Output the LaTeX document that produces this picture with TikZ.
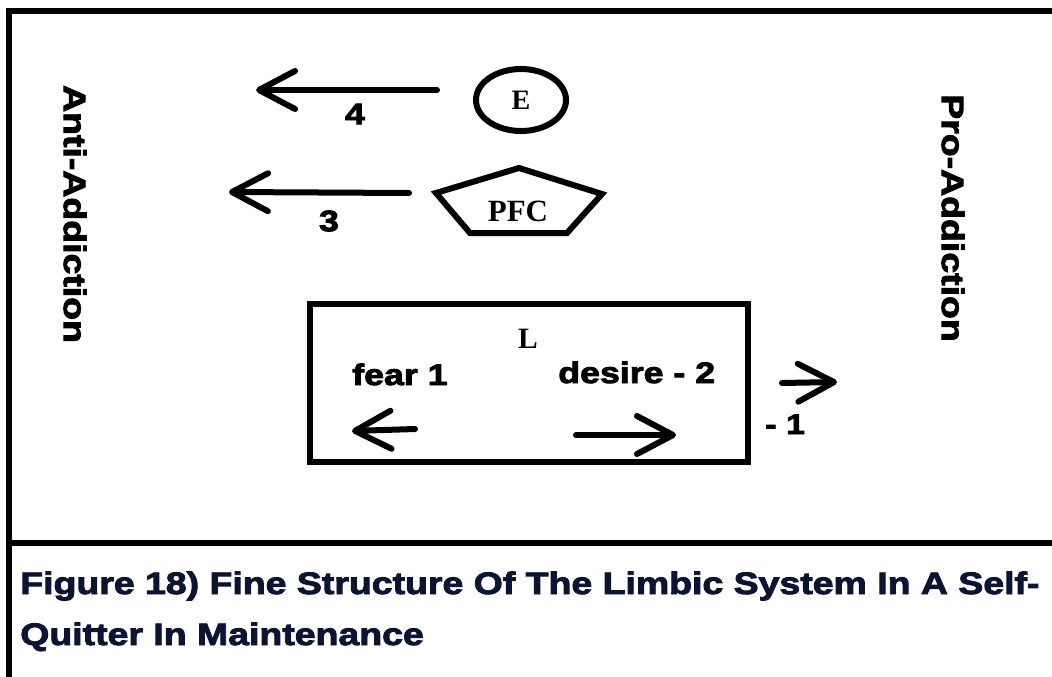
\documentclass[tikz,border=0pt]{standalone}
\usepackage{fontspec}
\setmainfont{Liberation Serif}
\newfontfamily\heavyfont{Liberation Sans Bold}[FakeBold=3,FakeStretch=1.21]
\usepackage{tikz}
\usetikzlibrary{positioning,calc,arrows.meta,shapes.geometric}
\definecolor{captionBlue}{HTML}{0B1433}
\tikzset{
  thickLine/.style={
    line width=0.16cm
  },
  arrowLine/.style={
    -{Straight Barb[length=0.9cm,width=0.95cm,round]},
    line width=0.15cm,
    line cap=round
  },
  sideLabel/.style={
    font=\heavyfont\fontsize{22}{26}\selectfont,
    rotate=-90,
    inner sep=0pt
  },
  numLabel/.style={
    font=\heavyfont\fontsize{21}{25}\selectfont,
    inner sep=0pt
  },
  regionShape/.style={
    draw,
    line width=0.15cm,
    inner sep=0pt,
    font=\bfseries\fontsize{22}{26}\selectfont
  },
  captionText/.style={
    font=\heavyfont\fontsize{22}{26}\selectfont,
    text=captionBlue,
    inner sep=0pt
  }
}

\begin{document}
\begin{tikzpicture}[x=0.025cm,y=-0.025cm]
        \useasboundingbox (0,0) rectangle (1052,677);
        % frame
        \draw[thickLine] (1052,11) -- (9,11) -- (9,677);
        \draw[thickLine] (9,543) -- (1052,543);

        % side labels
        \node[sideLabel] (antiLabel) at (75,214) {Anti-Addiction};
        \node[sideLabel] (proLabel) at (953,218) {Pro-Addiction};

        % E and PFC
        \node[regionShape, ellipse, minimum width=2.25cm, minimum height=1.55cm,
              font=\bfseries\fontsize{20}{24}\selectfont] (emotion) at (521,100) {E};
        \node[font=\bfseries\fontsize{22}{26}\selectfont, inner sep=0pt] (pfc) at (518,211) {PFC};
        \draw[regionShape] ($(pfc)+(1,-43)$) -- ++(83,26) -- ++(-35,39) -- ++(-97,0) -- ++(-34,-40) -- cycle;

        \coordinate (startFour) at (437,90);
        \coordinate (tipFour) at (256,90);
        \coordinate (startThree) at (409,193);
        \coordinate (tipThree) at (229,192);
        \draw[arrowLine] (startFour) -- (tipFour);
        \draw[arrowLine] (startThree) -- (tipThree);
        \node[numLabel] (numFour) at (355,114) {4};
        \node[numLabel] (numThree) at (329,221) {3};

        % limbic box
        \node[regionShape, rectangle, minimum width=10.95cm, minimum height=3.95cm] (limbic) at (529,383) {};
        \node[font=\bfseries\fontsize{21}{25}\selectfont, inner sep=0pt] (limbicName) at (528,339) {L};
        \node[numLabel, anchor=base west] (fearLabel) at (352,385) {fear 1};
        \node[numLabel, anchor=base west] (desireLabel) at (558,383) {desire - 2};

        \coordinate (fearStart) at (415,429);
        \coordinate (fearTip) at (352,431);
        \coordinate (desireStart) at (576,435);
        \coordinate (desireTip) at (676,435);
        \coordinate (outStart) at (782,383);
        \coordinate (outTip) at (837,382);
        \draw[arrowLine] (fearStart) -- (fearTip);
        \draw[arrowLine] (desireStart) -- (desireTip);
        \draw[arrowLine] (outStart) -- (outTip);
        \node[numLabel, anchor=base west, font=\heavyfont\fontsize{20}{24}\selectfont] (outLabel) at (765,434) {- 1};

        % caption
        \node[captionText, anchor=base west] (capTop) at (20,594) {Figure 18) Fine Structure Of The Limbic System In A Self-};
        \node[captionText, anchor=base west] (capBottom) at ($(capTop.base west)+(0,51)$) {Quitter In Maintenance};
    \end{tikzpicture}
\end{document}
